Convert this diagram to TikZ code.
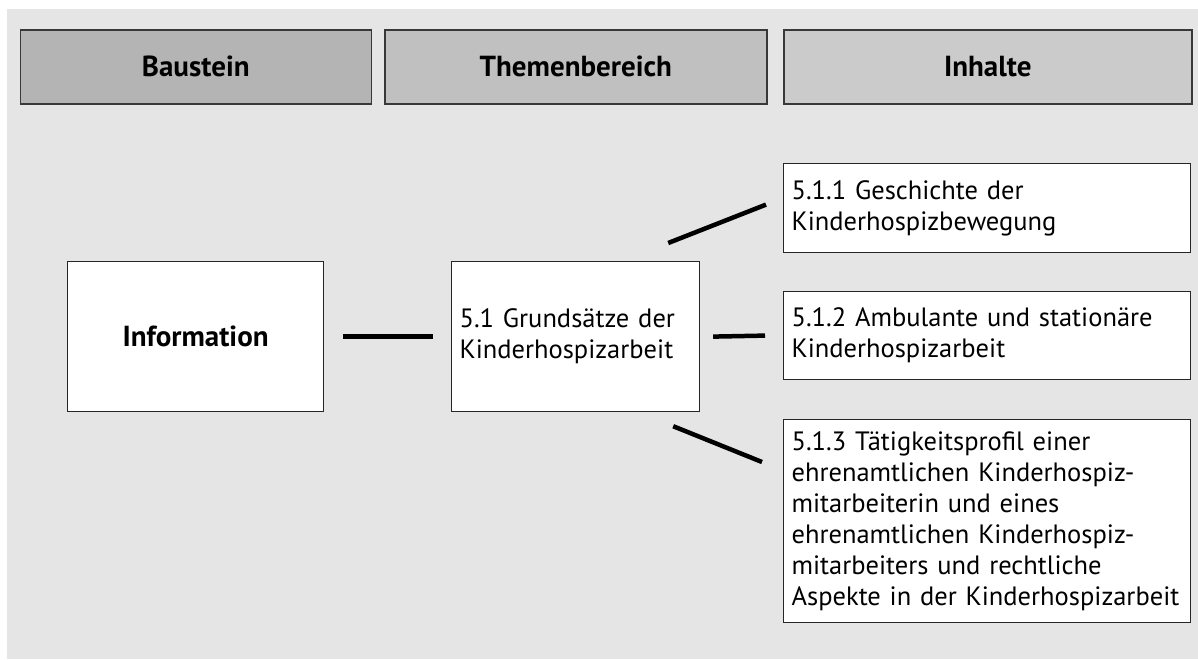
\documentclass[tikz,border=0pt]{standalone}
\usepackage{fontspec}
\setmainfont{PT Sans}
\definecolor{panel}{HTML}{E5E5E5}
\definecolor{hdrA}{HTML}{B4B4B4}
\definecolor{hdrB}{HTML}{C0C0C0}
\definecolor{hdrC}{HTML}{CBCBCB}
\begin{document}
\begin{tikzpicture}[x=1pt,y=-1pt,
  hdr/.style={draw=black!78, line width=1.6pt, anchor=north west,
    minimum height=74pt, inner sep=0pt, font=\bfseries\fontsize{29}{31}\selectfont},
  box/.style={draw=black!85, line width=1.2pt, fill=white, anchor=north west,
    inner xsep=8pt, inner ysep=0pt, align=left, font=\fontsize{26.5}{31}\selectfont},
  link/.style={line width=4.5pt}]
\useasboundingbox (0,0) rectangle (1198,659);
\fill[panel] (7,9) rectangle (1198,659);

% column headers
\node[hdr, fill=hdrA, minimum width=351pt] (baustein) at (19.5,29) {Baustein};
\node[hdr, fill=hdrB, minimum width=382pt] (themen) at (384,29) {Themenbereich};
\node[hdr, fill=hdrC, minimum width=408pt] (inhalte) at (783,29) {Inhalte};

% module and topic
\node[box, minimum width=256pt, minimum height=150pt, align=center,
  font=\bfseries\fontsize{29}{31}\selectfont] (info) at (67,261) {Information};
\node[box, minimum width=248pt, minimum height=150pt, text width=232pt] (grund) at (451,261)
  {5.1 Grundsätze der\\Kinderhospizarbeit};

% contents
\node[box, minimum width=407pt, minimum height=89pt, text width=391pt] (t1) at (783,163)
  {5.1.1 Geschichte der\\Kinderhospizbewegung};
\node[box, minimum width=407pt, minimum height=88pt, text width=391pt] (t2) at (783,291)
  {5.1.2 Ambulante und stationäre\\Kinderhospizarbeit};
\node[box, minimum width=407pt, minimum height=203pt, text width=391pt] (t3) at (783,419)
  {\mbox{5.1.3 Tätigkeitsprofil einer}\\\mbox{ehrenamtlichen Kinderhospiz-}\\\mbox{mitarbeiterin und eines}\\\mbox{ehrenamtlichen Kinderhospiz-}\\\mbox{mitarbeiters und rechtliche}\\\mbox{Aspekte in der Kinderhospizarbeit}};

% connectors (shifts are in page units: positive y points up)
\draw[link] ([xshift=19pt]info.east) -- ([xshift=-18pt]grund.west);
\draw[link] ([shift={(-32pt,18pt)}]grund.north east) -- ([shift={(-17pt,3.5pt)}]t1.west);
\draw[link] ([xshift=13pt]grund.east) -- ([xshift=-18pt]t2.west);
\draw[link] ([shift={(-27pt,-14pt)}]grund.south east) -- ([shift={(-21pt,-43pt)}]t3.north west);
\end{tikzpicture}
\end{document}
